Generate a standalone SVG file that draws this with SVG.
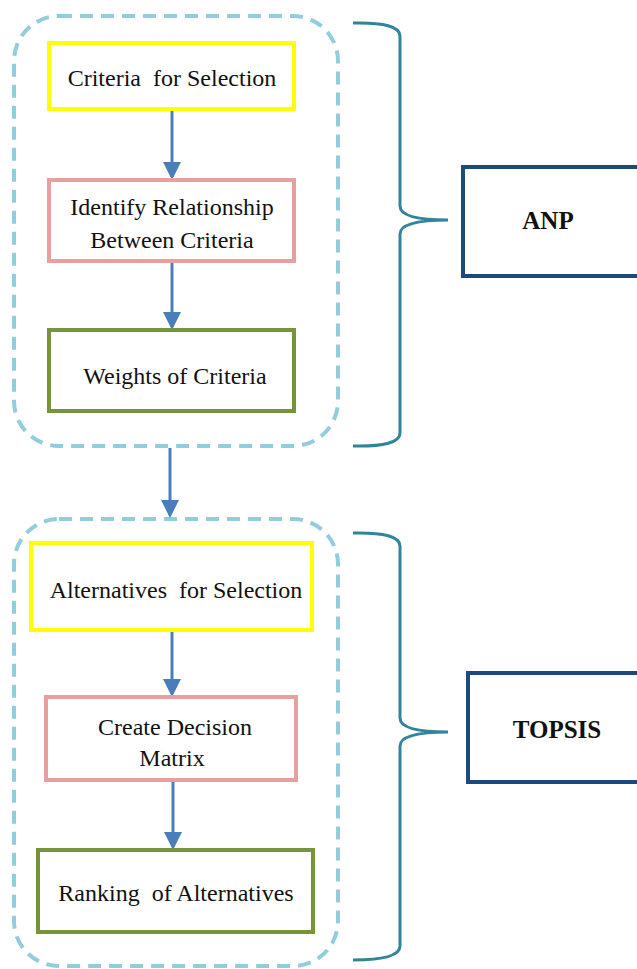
<svg xmlns="http://www.w3.org/2000/svg" width="637" height="969" viewBox="0 0 637 969">
<style>
.grp{fill:none;stroke:#92CDDC;stroke-width:4;stroke-dasharray:13 8}
.box{fill:#fff;stroke-width:4}
.y{stroke:#FFFF00}
.p{stroke:#E6A0A0}
.g{stroke:#77933C}
.m{fill:#fff;stroke:#1F497D;stroke-width:4}
.t{font-family:"Liberation Serif","Times New Roman",serif;font-size:24px;fill:#111;text-anchor:middle;white-space:pre}
.b{font-weight:bold;font-size:25px}
.br{fill:none;stroke:#31849B;stroke-width:3}
.ar{stroke:#4A7EBB;stroke-width:3;fill:none;marker-end:url(#ah)}
</style>
<defs>
<marker id="ah" markerWidth="6" markerHeight="6" refX="5" refY="3" orient="auto" markerUnits="strokeWidth">
<path d="M0,0 L6,3 L0,6 z" fill="#4A7EBB"/>
</marker>
</defs>
<rect width="637" height="969" fill="#fff"/>
<g id="group-anp"><rect class="grp" x="14" y="16" width="324" height="430" rx="45"/></g>
<g id="group-topsis"><rect class="grp" x="14" y="519" width="324" height="447" rx="45"/></g>
<g id="connectors">
<line class="ar" x1="172" y1="111" x2="172" y2="177"/>
<line class="ar" x1="172" y1="263" x2="172" y2="327"/>
<line class="ar" x1="170" y1="448" x2="170" y2="515"/>
<line class="ar" x1="172" y1="632" x2="172" y2="694"/>
<line class="ar" x1="173" y1="782" x2="173" y2="847"/>
<path class="br" d="M353,23 Q400,22 400,36 L400,206 Q400,220 448,220 Q400,220 400,234 L400,433 Q400,447 353,446"/>
<path class="br" d="M353,533 Q400,532 400,546 L400,718 Q400,732 448,732 Q400,732 400,746 L400,946 Q400,960 353,960"/>
</g>
<g id="n1"><rect class="box y" x="49" y="43" width="245" height="66"/><text class="t" x="172" y="86" xml:space="preserve">Criteria  for Selection</text></g>
<g id="n2"><rect class="box p" x="49" y="180" width="245" height="81"/><text class="t" x="172" y="215">Identify Relationship</text><text class="t" x="172" y="248">Between Criteria</text></g>
<g id="n3"><rect class="box g" x="49" y="330" width="245" height="81"/><text class="t" x="175" y="384">Weights of Criteria</text></g>
<g id="n4"><rect class="box y" x="31" y="543" width="281" height="87"/><text class="t" x="176" y="598" xml:space="preserve">Alternatives  for Selection</text></g>
<g id="n5"><rect class="box p" x="46" y="697" width="250" height="83"/><text class="t" x="175" y="735">Create Decision</text><text class="t" x="172" y="766">Matrix</text></g>
<g id="n6"><rect class="box g" x="38" y="850" width="275" height="82"/><text class="t" x="176" y="901" xml:space="preserve">Ranking  of Alternatives</text></g>
<g id="anp"><rect class="m" x="463" y="167" width="190" height="109"/><text class="t b" x="548" y="229">ANP</text></g>
<g id="topsis"><rect class="m" x="468" y="673" width="190" height="109"/><text class="t b" x="557" y="738">TOPSIS</text></g>
</svg>
